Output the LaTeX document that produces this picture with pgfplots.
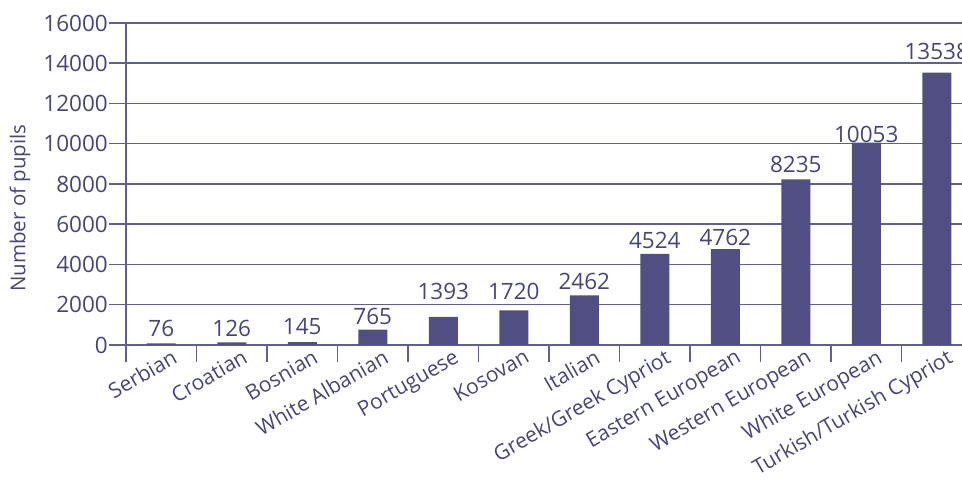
\documentclass[border=0pt]{standalone}
\usepackage{pgfplots}
\pgfplotsset{compat=1.18}
\usepackage{fontspec}
\setmainfont{Open Sans}
\definecolor{barc}{RGB}{80,78,130}
\definecolor{linec}{RGB}{96,94,148}
\definecolor{txt}{RGB}{70,70,120}
\begin{document}
\begin{tikzpicture}
\useasboundingbox (-126pt,-141pt) rectangle (836pt,345pt);
\begin{axis}[
  at={(0pt,0pt)}, anchor=south west,
  scale only axis, width=836pt, height=322pt,
  xmin=-0.5, xmax=11.358, ymin=0, ymax=16000,
  axis lines*=left,
  axis line style={linec, line width=1.5pt},
  every tick/.style={linec, line width=1.5pt},
  tick align=outside,
  major tick length=17pt,
  ytick={0,2000,...,16000},
  scaled y ticks=false,
  ymajorgrids,
  grid style={linec, line width=1.5pt},
  /pgf/number format/assume math mode=true,
  /pgf/number format/1000 sep={},
  yticklabel style={font=\fontsize{22.5}{26}\selectfont, text=txt, inner sep=1pt},
  xtick={-0.5,0.5,...,10.5},
  xticklabels={},
  extra x ticks={0,1,2,3,4,5,6,7,8,9,10,11},
  extra x tick labels={Serbian,Croatian,Bosnian,White Albanian,Portuguese,Kosovan,Italian,Greek/Greek Cypriot,Eastern European,Western European,White European,Turkish/Turkish Cypriot},
  extra x tick style={major tick length=0pt, grid=none,
    tick label style={font=\fontsize{21}{24}\selectfont, text=txt, rotate=30, anchor=north east, xshift=10pt, yshift=-4pt}},
  ylabel={Number of pupils},
  ylabel style={font=\fontsize{20.5}{24}\selectfont, text=txt, at={(axis description cs:-0.1268,0.425)}, anchor=center},
  clip=false,
]
\addplot[ybar, bar width=29pt, fill=barc, draw=none] coordinates {
(0,76) (1,126) (2,145) (3,765) (4,1393) (5,1720) (6,2462) (7,4524) (8,4762) (9,8235) (10,10053) (11,13538)};
\addplot[only marks, mark=*, mark size=0pt, mark options={draw=none,fill=none},
  nodes near coords, point meta=explicit symbolic,
  nodes near coords style={anchor=south, inner sep=0pt, font=\fontsize{22.5}{26}\selectfont, text=txt}]
coordinates {
(0,398)[76] (1,398)[126] (2,497)[145] (3,994)[765] (4,2236)[1393] (5,2236)[1720] (6,2733)[2462] (7,4770)[4524] (8,4919)[4762] (9,8547)[8235] (10,10037)[10053] (11,14161)[13538]};
\end{axis}
\end{tikzpicture}
\end{document}
